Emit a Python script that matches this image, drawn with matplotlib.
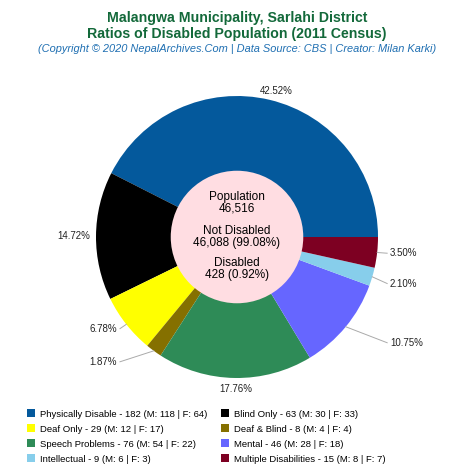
import matplotlib.pyplot as plt
from matplotlib.patches import Circle, Patch
import numpy as np

plt.rcParams["font.family"] = ["Liberation Sans", "DejaVu Sans"]

# data
categories = ["Physically Disable", "Blind Only", "Deaf Only", "Deaf & Blind",
              "Speech Problems", "Mental", "Intellectual", "Multiple Disabilities"]
totals = [182, 63, 29, 8, 76, 46, 9, 15]
male = [118, 30, 12, 4, 54, 28, 6, 8]
female = [64, 33, 17, 4, 22, 18, 3, 7]
population = 46516
not_disabled = 46088
disabled = 428

colors = ["#04599c", "#000000", "#ffff00", "#857000",
          "#2e8b57", "#6666ff", "#87ceeb", "#7d0022"]

# label anchors (pie radius = 1), alignment and whether a leader line is drawn
label_pos = [(0.28, 1.035), (-1.04, 0.01), (-0.85, -0.65), (-0.85, -0.885),
             (-0.01, -1.08), (1.085, -0.75), (1.085, -0.33), (1.085, -0.115)]
label_ha = ["center", "right", "right", "right", "center", "left", "left", "left"]
leader = [False, False, True, True, False, True, True, True]

fig = plt.figure(figsize=(4.74, 4.74), dpi=100)
ax = fig.add_axes([0, 0, 1, 1])

wedges, _ = ax.pie(totals, colors=colors, startangle=0, counterclock=True,
                   radius=1.0, wedgeprops=dict(linewidth=0))

# pie centre at (237, 237) px, radius 141 px
scale = 141.0
ax.set_xlim(-237 / scale, 237 / scale)
ax.set_ylim(-237 / scale, 237 / scale)
ax.set_aspect("equal")
ax.axis("off")

pct = [100 * t / sum(totals) for t in totals]
for i, w in enumerate(wedges):
    mid = np.deg2rad((w.theta1 + w.theta2) / 2)
    tx, ty = label_pos[i]
    ax.text(tx, ty, f"{pct[i]:.2f}%", ha=label_ha[i], va="center",
            fontsize=7, color="#222222")
    if leader[i]:
        ex, ey = np.cos(mid), np.sin(mid)
        sx = tx - 0.02 if label_ha[i] == "left" else tx + 0.02
        ax.plot([ex, sx], [ey, ty], color="#aaaaaa", lw=0.7)

ax.add_patch(Circle((0, 0), 0.47, facecolor="#ffdde2", edgecolor="none", zorder=3))
ax.text(0, 0.245, f"Population\n{population:,}", ha="center", va="center",
        fontsize=8.5, linespacing=0.9, zorder=4)
ax.text(0, 0.0, f"Not Disabled\n{not_disabled:,} ({100 * not_disabled / population:.2f}%)",
        ha="center", va="center", fontsize=8.5, linespacing=0.9, zorder=4)
ax.text(0, -0.227, f"Disabled\n{disabled:,} ({100 * disabled / population:.2f}%)",
        ha="center", va="center", fontsize=8.5, linespacing=0.9, zorder=4)

fig.text(0.5, 0.963, "Malangwa Municipality, Sarlahi District", ha="center",
         va="center", fontsize=10.2, fontweight="bold", color="#13693a")
fig.text(0.5, 0.929, "Ratios of Disabled Population (2011 Census)", ha="center",
         va="center", fontsize=10.2, fontweight="bold", color="#13693a")
fig.text(0.5, 0.897,
         "(Copyright © 2020 NepalArchives.Com | Data Source: CBS | Creator: Milan Karki)",
         ha="center", va="center", fontsize=7.9, style="italic", color="#1f6fb2")

handles = [Patch(facecolor=c, edgecolor="none") for c in colors]
labels = [f"{n} - {t} (M: {m} | F: {f})"
          for n, t, m, f in zip(categories, totals, male, female)]
order = [0, 2, 4, 6, 1, 3, 5, 7]
fig.legend([handles[i] for i in order], [labels[i] for i in order],
           ncol=2, loc="lower left", bbox_to_anchor=(0.038, 0.004),
           frameon=False, fontsize=6.8, handlelength=0.9, handleheight=0.9,
           handletextpad=0.55, columnspacing=1.4, labelspacing=0.62)

fig.savefig("out.png", dpi=100)
